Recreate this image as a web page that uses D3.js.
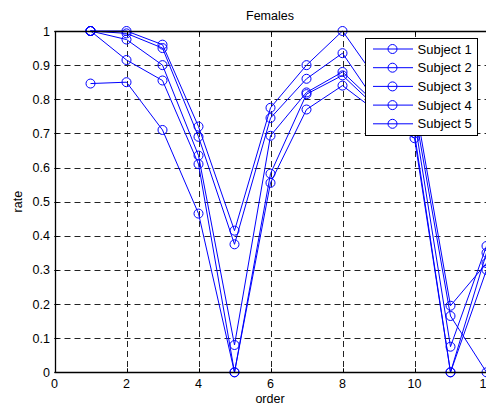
<!DOCTYPE html>
<html>
<head>
<meta charset="utf-8">
<script src="https://cdn.jsdelivr.net/npm/d3@7"></script>
<style>
body { margin: 0; background: #fff; }
svg { display: block; }
text { font-family: "Liberation Sans", Arial, sans-serif; fill: #000; }
</style>
</head>
<body>
<div id="chart"></div>
<script>
var w = 486;
var h = 405;

// x positions 1..12
var orders = [1, 2, 3, 4, 5, 6, 7, 8, 9, 10, 11, 12];

var subject1 = [1.000, 1.000, 0.960, 0.720, 0.415, 0.775, 0.900, 1.000, 0.850, 0.800, 0.195, 0.320];
var subject2 = [1.000, 0.993, 0.950, 0.690, 0.375, 0.745, 0.860, 0.935, 0.780, 0.770, 0.165, 0.000];
var subject3 = [1.000, 0.975, 0.900, 0.635, 0.080, 0.693, 0.820, 0.880, 0.780, 0.740, 0.075, 0.370];
var subject4 = [1.000, 0.915, 0.855, 0.610, 0.000, 0.582, 0.815, 0.870, 0.770, 0.700, 0.000, 0.350];
var subject5 = [0.846, 0.850, 0.710, 0.465, 0.000, 0.555, 0.770, 0.840, 0.760, 0.686, 0.000, 0.300];

var seriesNames = ["Subject 1", "Subject 2", "Subject 3", "Subject 4", "Subject 5"];
var seriesValues = [subject1, subject2, subject3, subject4, subject5];

var xTicks = [0, 2, 4, 6, 8, 10, 12];
var yTicks = [0, 0.1, 0.2, 0.3, 0.4, 0.5, 0.6, 0.7, 0.8, 0.9, 1];

var pLeft = 54.5, pRight = 486.5, pTop = 31, pBottom = 372.3;

var x = d3.scaleLinear().domain([0, 12]).range([pLeft, pRight]);
var y = d3.scaleLinear().domain([0, 1]).range([pBottom, pTop]);

var svg = d3.select("#chart").append("svg")
    .attr("width", w)
    .attr("height", h);

// grid
var grid = svg.append("g");
grid.selectAll(".gx")
    .data(xTicks.filter(function(d){ return d > 0 && d < 12; }))
    .enter().append("line")
    .attr("x1", function(d){ return Math.round(x(d)) + 0.5; })
    .attr("x2", function(d){ return Math.round(x(d)) + 0.5; })
    .attr("y1", pTop).attr("y2", pBottom)
    .attr("stroke", "#222").attr("stroke-width", 1)
    .attr("stroke-dasharray", "6,4");
grid.selectAll(".gy")
    .data(yTicks.filter(function(d){ return d > 0 && d < 1; }))
    .enter().append("line")
    .attr("x1", pLeft).attr("x2", pRight)
    .attr("y1", function(d){ return Math.round(y(d)) + 0.5; })
    .attr("y2", function(d){ return Math.round(y(d)) + 0.5; })
    .attr("stroke", "#222").attr("stroke-width", 1)
    .attr("stroke-dasharray", "6,4");

// series
var line = d3.line()
    .x(function(d, i){ return x(orders[i]); })
    .y(function(d){ return y(d); });

var series = svg.selectAll(".series")
    .data(seriesValues)
    .enter().append("g");

series.append("path")
    .attr("d", function(d){ return line(d); })
    .attr("fill", "none")
    .attr("stroke", "#0000ff")
    .attr("stroke-width", 1);

series.selectAll("circle")
    .data(function(d){ return d; })
    .enter().append("circle")
    .attr("cx", function(d, i){ return x(orders[i]); })
    .attr("cy", function(d){ return y(d); })
    .attr("r", 4.5)
    .attr("fill", "none")
    .attr("stroke", "#0000ff")
    .attr("stroke-width", 1);

// axes box
var axes = svg.append("g");
axes.append("line").attr("x1", pLeft).attr("x2", pRight).attr("y1", Math.round(pTop) + 0.5).attr("y2", Math.round(pTop) + 0.5)
    .attr("stroke", "#000").attr("stroke-width", 1.3);
axes.append("line").attr("x1", pLeft).attr("x2", pRight).attr("y1", Math.round(pBottom) + 0.5).attr("y2", Math.round(pBottom) + 0.5)
    .attr("stroke", "#000").attr("stroke-width", 1.3);
axes.append("line").attr("x1", Math.round(pLeft) + 0.5).attr("x2", Math.round(pLeft) + 0.5).attr("y1", pTop).attr("y2", pBottom)
    .attr("stroke", "#000").attr("stroke-width", 1.3);

// ticks (inward)
axes.selectAll(".tx")
    .data(xTicks)
    .enter().append("line")
    .attr("x1", function(d){ return Math.round(x(d)) + 0.5; })
    .attr("x2", function(d){ return Math.round(x(d)) + 0.5; })
    .attr("y1", pBottom).attr("y2", pBottom - 4)
    .attr("stroke", "#000");
axes.selectAll(".txt")
    .data(xTicks)
    .enter().append("line")
    .attr("x1", function(d){ return Math.round(x(d)) + 0.5; })
    .attr("x2", function(d){ return Math.round(x(d)) + 0.5; })
    .attr("y1", pTop).attr("y2", pTop + 4)
    .attr("stroke", "#000");
axes.selectAll(".ty")
    .data(yTicks)
    .enter().append("line")
    .attr("x1", pLeft).attr("x2", pLeft + 4)
    .attr("y1", function(d){ return Math.round(y(d)) + 0.5; })
    .attr("y2", function(d){ return Math.round(y(d)) + 0.5; })
    .attr("stroke", "#000");

// tick labels
axes.selectAll(".lx")
    .data(xTicks)
    .enter().append("text")
    .attr("x", function(d){ return x(d); })
    .attr("y", 388)
    .attr("text-anchor", "middle")
    .style("font-size", "12.5px")
    .text(function(d){ return d; });
axes.selectAll(".ly")
    .data(yTicks)
    .enter().append("text")
    .attr("x", 50)
    .attr("y", function(d){ return y(d) + 4.5; })
    .attr("text-anchor", "end")
    .style("font-size", "12.5px")
    .text(function(d){ return d; });

// titles
svg.append("text")
    .attr("x", 270).attr("y", 19.5)
    .attr("text-anchor", "middle")
    .style("font-size", "12.5px")
    .text("Females");
svg.append("text")
    .attr("x", 270).attr("y", 403)
    .attr("text-anchor", "middle")
    .style("font-size", "12.5px")
    .text("order");
svg.append("text")
    .attr("transform", "translate(22," + ((pTop + pBottom) / 2) + ") rotate(-90)")
    .attr("text-anchor", "middle")
    .style("font-size", "12.5px")
    .text("rate");

// legend
var legend = svg.append("g");
legend.append("rect")
    .attr("x", 365.5).attr("y", 38.5)
    .attr("width", 112).attr("height", 97)
    .attr("fill", "#fff")
    .attr("stroke", "#000")
    .attr("stroke-width", 1);

var items = legend.selectAll(".item")
    .data(seriesNames)
    .enter().append("g")
    .attr("transform", function(d, i){ return "translate(0," + (49 + i * 18.7) + ")"; });
items.append("line")
    .attr("x1", 373).attr("x2", 413)
    .attr("y1", 0).attr("y2", 0)
    .attr("stroke", "#0000ff");
items.append("circle")
    .attr("cx", 392.5).attr("cy", 0).attr("r", 4.5)
    .attr("fill", "none").attr("stroke", "#0000ff");
items.append("text")
    .attr("x", 417.5).attr("y", 4.5)
    .style("font-size", "13px")
    .text(function(d){ return d; });
</script>
</body>
</html>
